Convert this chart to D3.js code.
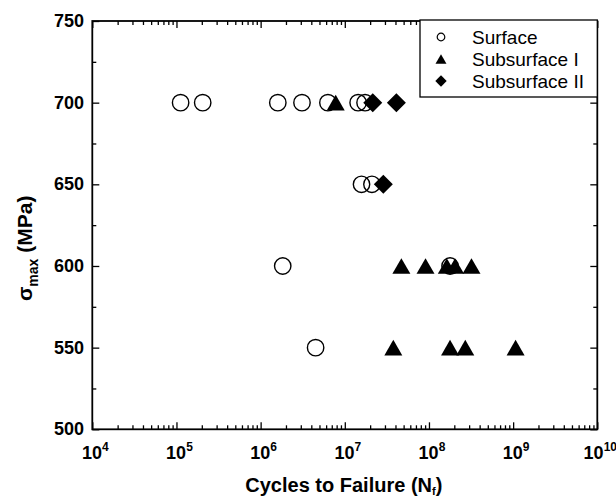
<!DOCTYPE html>
<html>
<head>
<meta charset="utf-8">
<script src="https://cdn.jsdelivr.net/npm/d3@7"></script>
<style>
  body { margin: 0; background: #fff; }
  text { font-family: "Liberation Sans", Arial, sans-serif; }
</style>
</head>
<body>
<svg id="chart" width="616" height="497"></svg>
<script>
// values
const surfaceN = [1.12e5, 2.05e5, 1.6e6, 3.1e6, 6.3e6, 1.44e7, 1.74e7, 1.58e7, 2.1e7, 1.83e6, 1.78e8, 4.5e6];
const surfaceS = [700, 700, 700, 700, 700, 700, 700, 650, 650, 600, 600, 550];
const sub1N = [7.8e6, 4.7e7, 9.1e7, 1.63e8, 2.04e8, 3.2e8, 3.77e7, 1.78e8, 2.7e8, 1.07e9];
const sub1S = [700, 600, 600, 600, 600, 600, 550, 550, 550, 550];
const sub2N = [2.15e7, 4.1e7, 2.87e7];
const sub2S = [700, 700, 650];

const xExponents = [4, 5, 6, 7, 8, 9, 10];
const yTicks = [500, 550, 600, 650, 700, 750];
const yMinor = [525, 575, 625, 675, 725];
const legendNames = ["Surface", "Subsurface I", "Subsurface II"];

const svg = d3.select("#chart");
const pLeft = 92.3, pRight = 597.3, pTop = 21, pBottom = 429.3;

const x = d3.scaleLog().domain([1e4, 1e10]).range([pLeft, pRight]);
const y = d3.scaleLinear().domain([500, 750]).range([pBottom, pTop]);

// minor ticks 2..9 in each decade
const xMinor = [];
xExponents.slice(0, -1).forEach(e => {
    for (let k = 2; k <= 9; k++) xMinor.push(k * Math.pow(10, e));
});
const xMajor = xExponents.map(e => Math.pow(10, e));

function tickStyle(g) {
    g.select(".domain").remove();
    g.selectAll("line").attr("stroke", "#000").attr("stroke-width", 1.3);
}

// ticks, all pointing inward
svg.append("g").attr("transform", `translate(0,${pBottom})`)
    .call(d3.axisBottom(x).tickValues(xMajor).tickFormat("").tickSize(-7)).call(tickStyle);
svg.append("g").attr("transform", `translate(0,${pBottom})`)
    .call(d3.axisBottom(x).tickValues(xMinor).tickFormat("").tickSize(-4)).call(tickStyle);
svg.append("g").attr("transform", `translate(0,${pTop})`)
    .call(d3.axisTop(x).tickValues(xMajor).tickFormat("").tickSize(-7)).call(tickStyle);
svg.append("g").attr("transform", `translate(0,${pTop})`)
    .call(d3.axisTop(x).tickValues(xMinor).tickFormat("").tickSize(-4)).call(tickStyle);
svg.append("g").attr("transform", `translate(${pLeft},0)`)
    .call(d3.axisLeft(y).tickValues(yTicks).tickFormat("").tickSize(-7)).call(tickStyle);
svg.append("g").attr("transform", `translate(${pLeft},0)`)
    .call(d3.axisLeft(y).tickValues(yMinor).tickFormat("").tickSize(-4)).call(tickStyle);
svg.append("g").attr("transform", `translate(${pRight},0)`)
    .call(d3.axisRight(y).tickValues(yTicks).tickFormat("").tickSize(-7)).call(tickStyle);
svg.append("g").attr("transform", `translate(${pRight},0)`)
    .call(d3.axisRight(y).tickValues(yMinor).tickFormat("").tickSize(-4)).call(tickStyle);

// frame
svg.append("rect")
    .attr("x", pLeft).attr("y", pTop)
    .attr("width", pRight - pLeft).attr("height", pBottom - pTop)
    .attr("fill", "none").attr("stroke", "#000").attr("stroke-width", 1.8);

// tick labels
const xl = svg.append("g").selectAll("text").data(xExponents).enter()
    .append("text")
    .attr("x", e => x(Math.pow(10, e)) + 3)
    .attr("y", 459)
    .attr("text-anchor", "middle")
    .attr("font-weight", "bold")
    .attr("font-size", 18);
xl.append("tspan").text("10");
xl.append("tspan").attr("dy", -8).attr("font-size", 12).text(e => e);

svg.append("g").selectAll("text").data(yTicks).enter()
    .append("text")
    .attr("x", 84)
    .attr("y", d => y(d) + 6)
    .attr("text-anchor", "end")
    .attr("font-weight", "bold")
    .attr("font-size", 18)
    .text(d => d);

// axis titles
const xt = svg.append("text")
    .attr("x", (pLeft + pRight) / 2 - 1)
    .attr("y", 492)
    .attr("text-anchor", "middle")
    .attr("font-weight", "bold")
    .attr("font-size", 20);
xt.append("tspan").text("Cycles to Failure (N");
xt.append("tspan").attr("dy", 3).attr("font-size", 11).text("f");
xt.append("tspan").attr("dy", -3).text(")");

const yt = svg.append("text")
    .attr("transform", "translate(32,301) rotate(-90)")
    .attr("text-anchor", "start")
    .attr("font-weight", "bold")
    .attr("font-size", 21);
yt.append("tspan").text("σ");
yt.append("tspan").attr("dy", 6).attr("font-size", 14).text("max");
yt.append("tspan").attr("dy", -6).text(" (MPa)");

// marker shapes
const triangle = {
    draw(ctx, size) {
        const w = Math.sqrt(size);
        const h = w * 0.87;
        ctx.moveTo(0, -h / 2);
        ctx.lineTo(w / 2, h / 2);
        ctx.lineTo(-w / 2, h / 2);
        ctx.closePath();
    }
};
const diamond = {
    draw(ctx, size) {
        const r = Math.sqrt(size) / 2;
        ctx.moveTo(0, -r);
        ctx.lineTo(r, 0);
        ctx.lineTo(0, r);
        ctx.lineTo(-r, 0);
        ctx.closePath();
    }
};

const plot = svg.append("g");
plot.selectAll("circle.surface").data(surfaceN).enter()
    .append("circle")
    .attr("class", "surface")
    .attr("cx", d => x(d))
    .attr("cy", (d, i) => y(surfaceS[i]))
    .attr("r", 8.2)
    .attr("fill", "none")
    .attr("stroke", "#000")
    .attr("stroke-width", 1.4);

plot.selectAll("path.sub1").data(sub1N).enter()
    .append("path")
    .attr("class", "sub1")
    .attr("d", d3.symbol().type(triangle).size(18 * 18))
    .attr("transform", (d, i) => `translate(${x(d)},${y(sub1S[i])})`)
    .attr("fill", "#000");

plot.selectAll("path.sub2").data(sub2N).enter()
    .append("path")
    .attr("class", "sub2")
    .attr("d", d3.symbol().type(diamond).size(19 * 19))
    .attr("transform", (d, i) => `translate(${x(d)},${y(sub2S[i])})`)
    .attr("fill", "#000");

// legend
const lg = svg.append("g");
lg.append("rect")
    .attr("x", 420).attr("y", pTop - 1)
    .attr("width", pRight - 420).attr("height", 77)
    .attr("fill", "#fff").attr("stroke", "#000").attr("stroke-width", 1.3);

const rows = lg.selectAll("g.row").data(legendNames).enter()
    .append("g")
    .attr("class", "row")
    .attr("transform", (d, i) => `translate(441,${37 + i * 22})`);

rows.each(function (d, i) {
    const g = d3.select(this);
    if (i === 0) {
        g.append("circle").attr("r", 3.8).attr("fill", "none")
            .attr("stroke", "#000").attr("stroke-width", 1.2);
    } else {
        g.append("path")
            .attr("d", d3.symbol().type(i === 1 ? triangle : diamond).size(i === 1 ? 120 : 130))
            .attr("fill", "#000");
    }
});
rows.append("text")
    .attr("x", 31)
    .attr("y", 7)
    .attr("font-size", 19)
    .text(d => d);
</script>
</body>
</html>
